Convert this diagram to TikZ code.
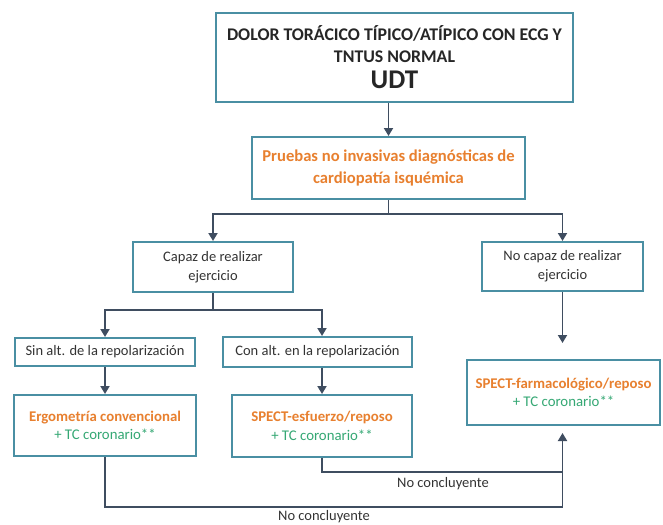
\documentclass[tikz,border=0pt]{standalone}
\usepackage{fontspec}
\setmainfont{Carlito}
\usetikzlibrary{arrows.meta}
\definecolor{borde}{HTML}{4A8FA3}
\definecolor{flech}{HTML}{3F4D60}
\definecolor{naranja}{HTML}{E8802F}
\definecolor{verde}{HTML}{35A874}

\begin{document}
\begin{tikzpicture}[x=1pt,y=-1pt,
  caja/.style={draw=borde,line width=2pt,fill=white,align=center,inner sep=0pt},
  flecha/.style={draw=flech,line width=1.8pt,-{Triangle[length=8pt,width=9pt]}},
  linea/.style={draw=flech,line width=1.8pt},
  txt/.style={font=\fontsize{14.5}{19}\selectfont,text=black!80},
  prueba/.style={font=\bfseries\fontsize{14.8}{18.5}\selectfont,text=naranja}]
\useasboundingbox (0,0) rectangle (663,524);
% cajas
\node[caja,minimum width=357pt,minimum height=89pt,text=black!85,
  font=\bfseries\fontsize{17.8}{22}\selectfont] (dolor) at (394.5,57.5)
  {DOLOR TORÁCICO TÍPICO/ATÍPICO CON ECG Y\\
   TNTUS NORMAL\\[4pt]
   {\fontsize{27}{26}\selectfont UDT}};
\node[caja,minimum width=273pt,minimum height=62pt,font=\bfseries\fontsize{16.6}{22}\selectfont,text=naranja] (pruebas) at (388.5,168)
  {Pruebas no invasivas diagnósticas de\\cardiopatía isquémica};
\node[caja,txt,minimum width=160pt,minimum height=50pt] (capaz) at (213,267) {Capaz de realizar\\ejercicio};
\node[caja,txt,minimum width=161pt,minimum height=49pt] (nocapaz) at (562.5,266.5) {No capaz de realizar\\ejercicio};
\node[caja,txt,minimum width=180pt,minimum height=28pt] (sin) at (105,352) {Sin alt. de la repolarización};
\node[caja,txt,minimum width=189pt,minimum height=30pt] (con) at (317.5,352) {Con alt. en la repolarización};
\node[caja,prueba,minimum width=182pt,minimum height=61pt] (ergo) at (105,425.5)
  {Ergometría convencional\\\textmd{\textcolor{verde}{+ TC coronario**}}};
\node[caja,prueba,minimum width=180pt,minimum height=62pt] (spect) at (322,426)
  {SPECT-esfuerzo/reposo\\\textmd{\textcolor{verde}{+ TC coronario**}}};
\node[caja,prueba,minimum width=193pt,minimum height=65pt] (farm) at (563.5,392.5)
  {SPECT-farmacológico/reposo\\\textmd{\textcolor{verde}{+ TC coronario**}}};
% conectores
\coordinate (r1) at (388.5,214);
\coordinate (r2) at (213,310);
\coordinate (r3) at (322,472);
\coordinate (r4) at (105,507);
\draw[flecha] (pruebas.north |- dolor.south) -- (pruebas.north);
\draw[linea] (pruebas.south) -- (r1);
\draw[flecha] (r1) -| (capaz.north);
\draw[flecha] (r1) -| (nocapaz.north);
\draw[linea] (capaz.south) -- (r2);
\draw[flecha] (r2) -| (sin.north);
\draw[flecha] (r2) -| (spect.north |- con.north);
\draw[flecha] (sin.south) -- (ergo.north);
\draw[flecha] (spect.north |- con.south) -- (spect.north);
\draw[flecha,shorten >=16pt] (nocapaz.south) -- (nocapaz.south |- farm.north);
\draw[linea] (spect.south) -- (r3) -- (r3 -| nocapaz.south);
\draw[flecha,shorten >=7pt] (ergo.south) -- (r4) -| (nocapaz.south |- farm.south);
\node[txt] (nc1) at (443,484) {No concluyente};
\node[txt] (nc2) at (324,517) {No concluyente};
\end{tikzpicture}
\end{document}
